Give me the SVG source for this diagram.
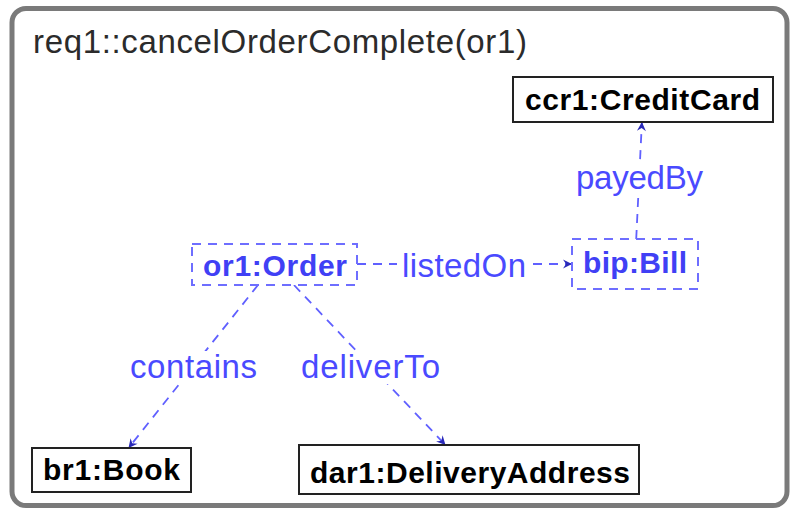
<svg xmlns="http://www.w3.org/2000/svg" width="792" height="512" viewBox="0 0 792 512">
<style>
.frame{fill:#fff;stroke:#7a7a7a;stroke-width:5}
.title{font-family:"Liberation Sans",Arial,sans-serif;font-size:33px;fill:#2b2b2b}
.box{fill:#fff;stroke:#222;stroke-width:2}
.dbox{fill:#fff;stroke:#6e6eff;stroke-width:2;stroke-dasharray:9 7}
.ntext{font-family:"Liberation Sans",Arial,sans-serif;font-weight:bold;font-size:30px;fill:#000}
.btext{font-family:"Liberation Sans",Arial,sans-serif;font-weight:bold;font-size:30px;fill:#4040f5}
.link{fill:none;stroke:#6060ff;stroke-width:1.8;stroke-dasharray:9 7;marker-end:url(#ah)}
.lbg{fill:#fff}
.ltext{font-family:"Liberation Sans",Arial,sans-serif;font-size:33px;fill:#4a4aff}
</style>
<defs>
<marker id="ah" viewBox="-10 -5 11 10" refX="0" refY="0" markerWidth="11" markerHeight="10" orient="auto" markerUnits="userSpaceOnUse">
<path d="M0,0 L-9,-4.5 L-6,0 L-9,4.5 Z" fill="#2a2ab8"/>
</marker>
</defs>
<rect class="frame" x="12" y="8.5" width="775" height="497" rx="14"/>
<text class="title" x="33" y="53" textLength="494" lengthAdjust="spacing">req1::cancelOrderComplete(or1)</text>

<g id="connectors">
<line class="link" x1="357" y1="264" x2="572" y2="264"/>
<line class="link" x1="636.2" y1="239" x2="641.9" y2="122"/>
<line class="link" x1="258" y1="285" x2="128.5" y2="448"/>
<line class="link" x1="294" y1="285" x2="445.5" y2="445"/>
<rect class="lbg" x="397" y="250" width="134" height="32"/>
<text class="ltext" x="402" y="277" textLength="124" lengthAdjust="spacing">listedOn</text>
<rect class="lbg" x="572" y="164" width="135" height="34"/>
<text class="ltext" x="576" y="189" textLength="127" lengthAdjust="spacing">payedBy</text>
<rect class="lbg" x="126" y="351" width="135" height="33"/>
<text class="ltext" x="130" y="378" textLength="127" lengthAdjust="spacing">contains</text>
<rect class="lbg" x="297" y="351" width="147" height="33"/>
<text class="ltext" x="301" y="378" textLength="139" lengthAdjust="spacing">deliverTo</text>
</g>

<g id="ccr1">
<rect class="box" x="513" y="77" width="260" height="45"/>
<text class="ntext" x="525" y="110" textLength="235" lengthAdjust="spacing">ccr1:CreditCard</text>
</g>
<g id="bip">
<rect class="dbox" x="572" y="239" width="126" height="50"/>
<text class="btext" x="583" y="273" textLength="104" lengthAdjust="spacing">bip:Bill</text>
</g>
<g id="or1">
<rect class="dbox" x="192" y="244" width="165" height="41"/>
<text class="btext" x="203" y="276" textLength="144" lengthAdjust="spacing">or1:Order</text>
</g>
<g id="br1">
<rect class="box" x="32" y="448" width="159" height="44"/>
<text class="ntext" x="43" y="480" textLength="137" lengthAdjust="spacing">br1:Book</text>
</g>
<g id="dar1">
<rect class="box" x="299" y="445" width="340" height="49"/>
<text class="ntext" x="310" y="483" textLength="320" lengthAdjust="spacing">dar1:DeliveryAddress</text>
</g>
</svg>
